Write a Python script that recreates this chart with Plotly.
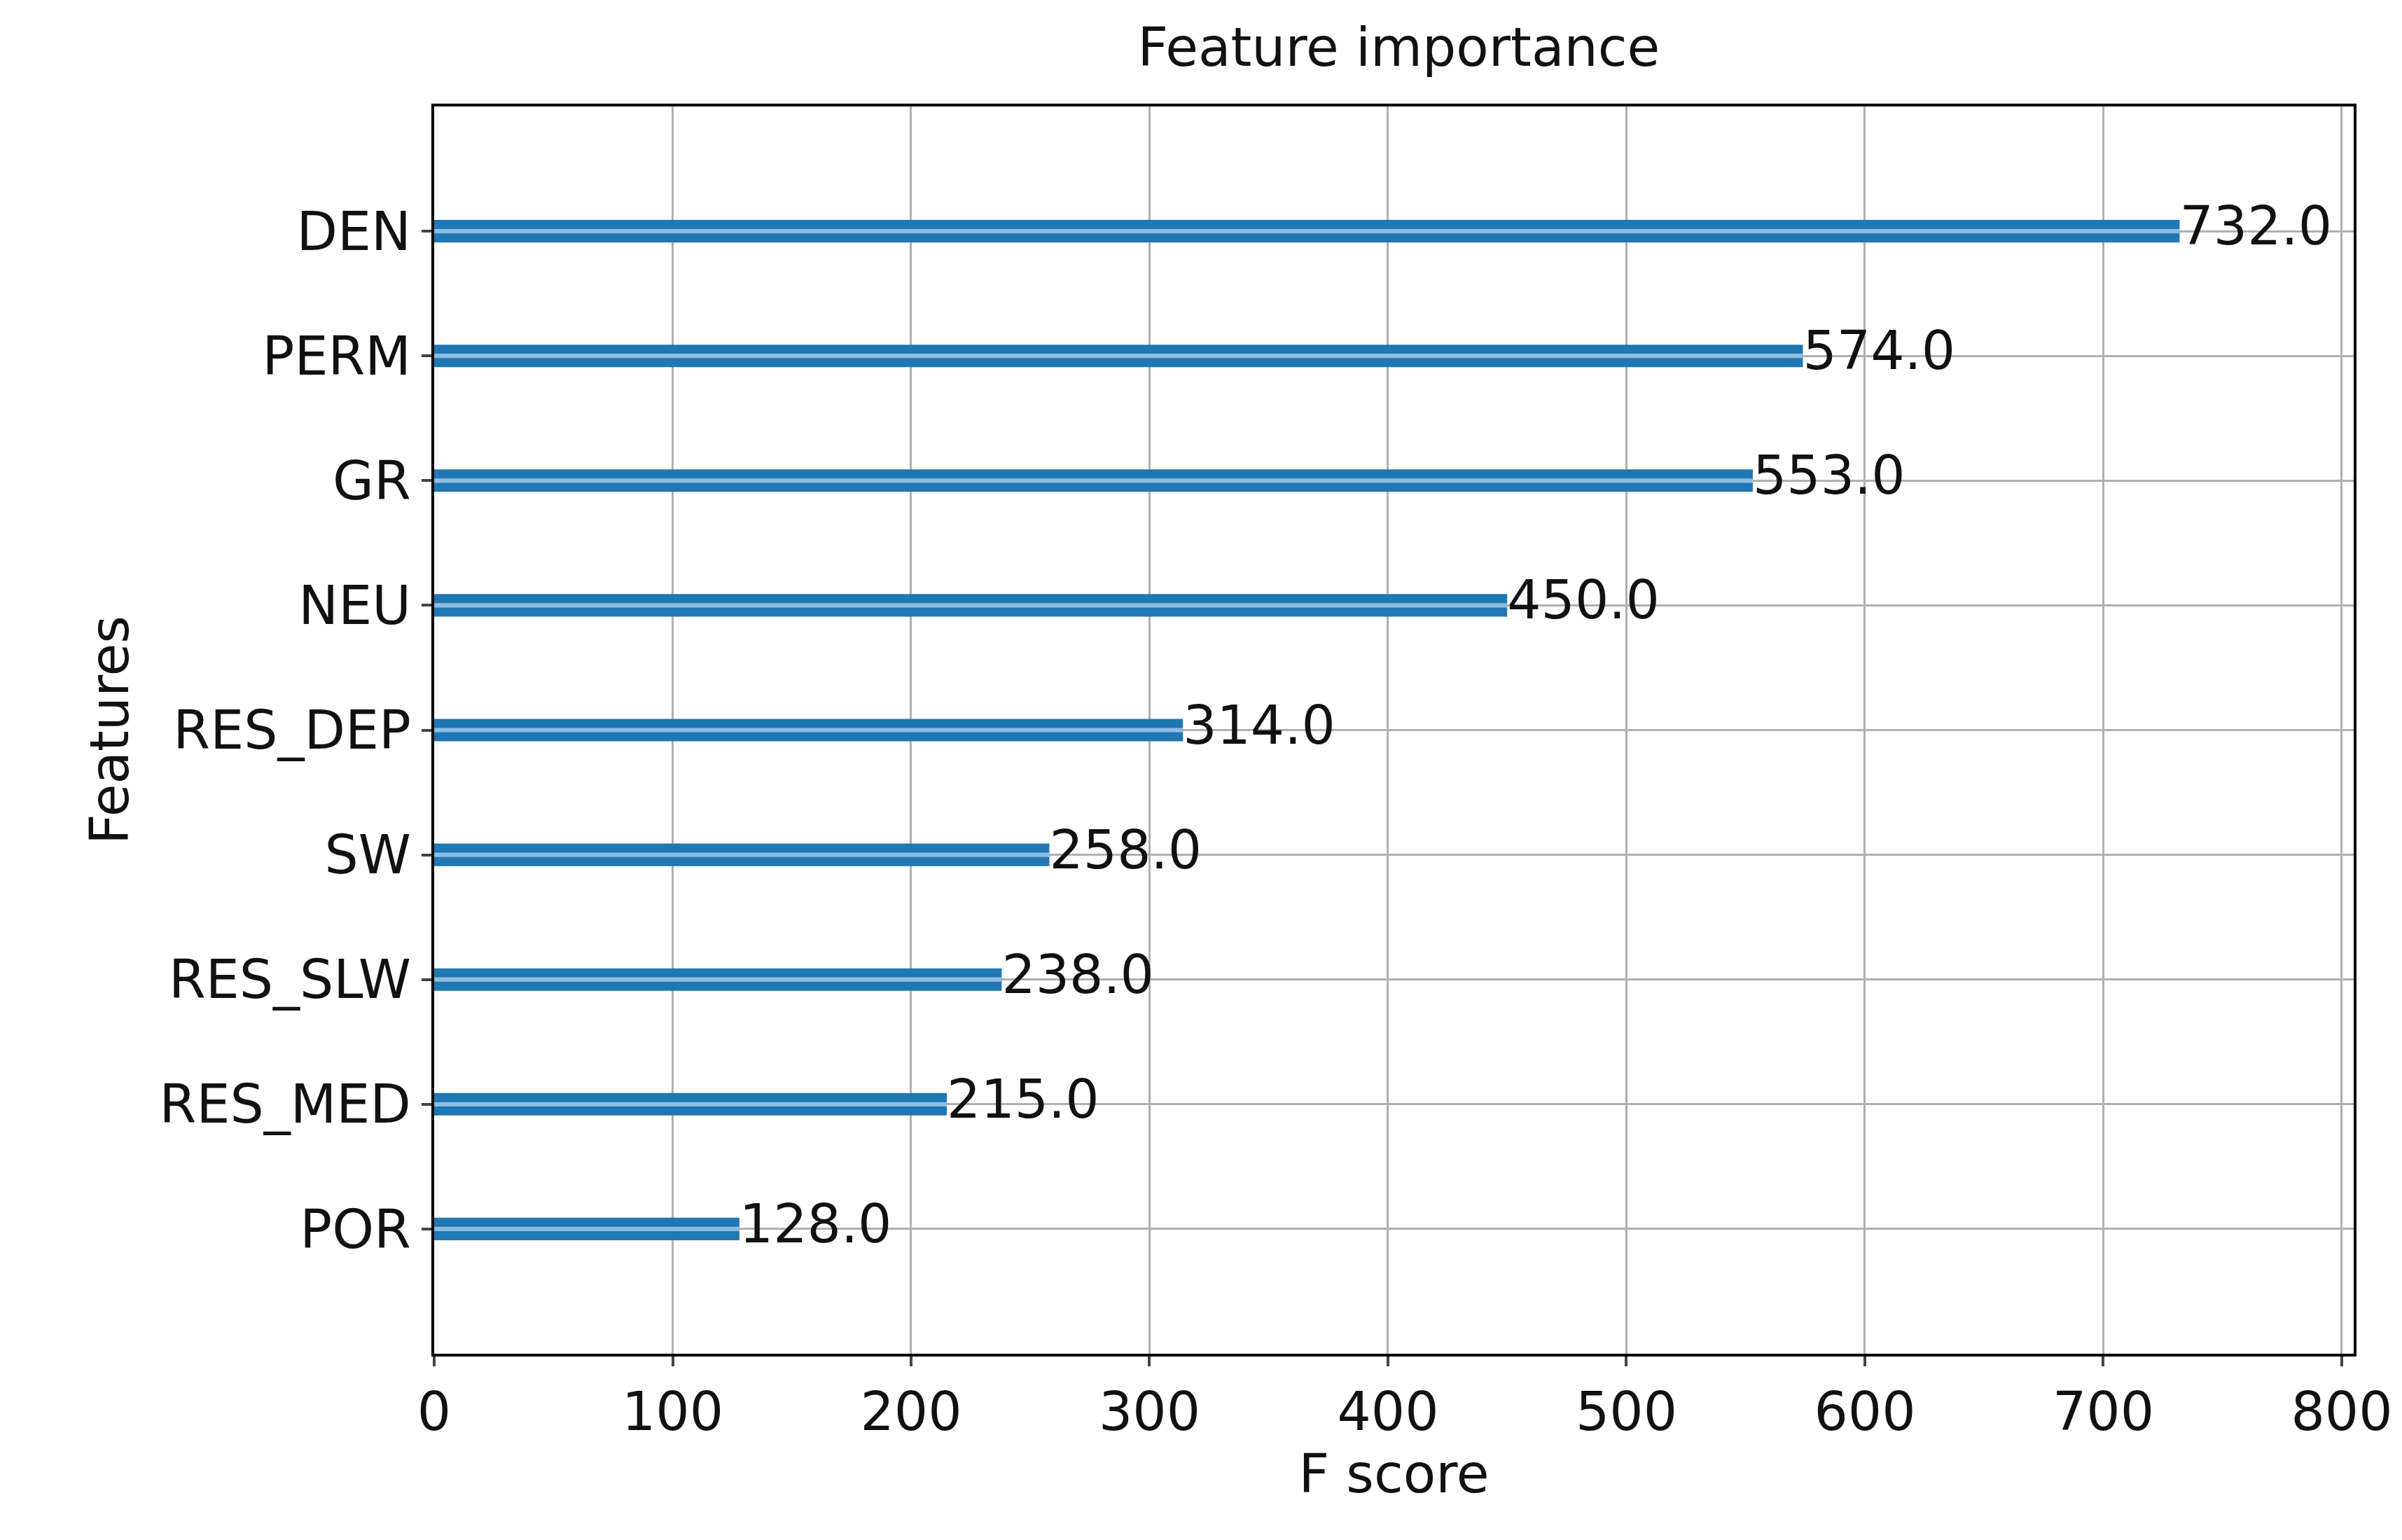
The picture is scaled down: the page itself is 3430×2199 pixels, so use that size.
import plotly.graph_objects as go

features = ["POR", "RES_MED", "RES_SLW", "SW", "RES_DEP", "NEU", "GR", "PERM", "DEN"]
scores = [128.0, 215.0, 238.0, 258.0, 314.0, 450.0, 553.0, 574.0, 732.0]
labels = [f"{v:.1f}" for v in scores]
xticks = [0, 100, 200, 300, 400, 500, 600, 700, 800]

FS = 76
fig = go.Figure()
fig.add_trace(go.Bar(x=scores, y=features, orientation="h", width=0.18,
                     marker=dict(color="#1f77b4", line=dict(width=0))))
fig.add_trace(go.Bar(x=scores, y=features, orientation="h", width=0.035,
                     marker=dict(color="#8fbde0", line=dict(width=0)), hoverinfo="skip"))
fig.add_trace(go.Scatter(x=scores, y=features, mode="text", text=labels,
                         textposition="middle right", cliponaxis=False,
                         textfont=dict(size=FS, color="#111", family="DejaVu Sans")))
fig.update_layout(
    barmode="overlay", showlegend=False,
    width=3430, height=2199, paper_bgcolor="white", plot_bgcolor="white",
    margin=dict(l=612, r=77, t=144, b=274),
    font=dict(family="DejaVu Sans", size=FS, color="#111"),
    title=dict(text="Feature importance", x=0.58, xanchor="center", y=0.985, yanchor="top",
               font=dict(size=FS)),
    xaxis=dict(range=[0, 805], tickvals=xticks, showgrid=True, gridcolor="#b0b0b0", gridwidth=3,
               showline=True, linecolor="black", linewidth=4, mirror=True, ticks="outside",
               ticklen=14, tickwidth=4, zeroline=False, tickfont=dict(size=FS),
               title=dict(text="F score", standoff=10, font=dict(size=FS))),
    yaxis=dict(range=[-1, 9], showgrid=True, gridcolor="#b0b0b0", gridwidth=3,
               showline=True, linecolor="black", linewidth=4, mirror=True, ticks="outside",
               ticklen=14, tickwidth=4, tickfont=dict(size=FS),
               title=dict(text="Features", standoff=20, font=dict(size=FS))),
)
fig.write_html("out.html")
